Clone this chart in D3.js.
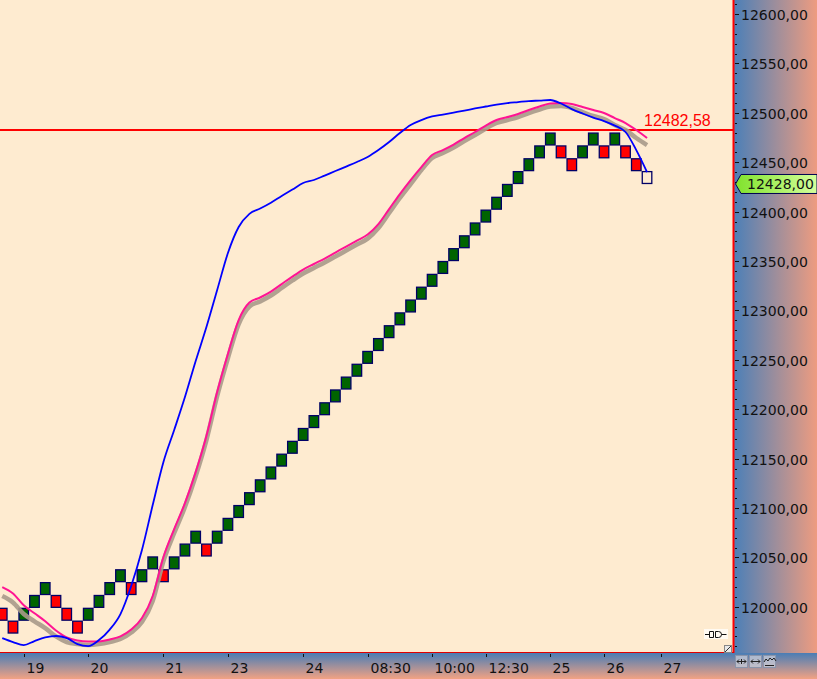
<!DOCTYPE html>
<html><head><meta charset="utf-8">
<script src="https://cdn.jsdelivr.net/npm/d3@7"></script>
<style>html,body{margin:0;padding:0;background:#fff;}svg{display:block;}</style>
</head><body>
<script>
// ---------- DATA ----------
const brickOpen  = [11999,11986,11986,11999,12012,12012,11999,11986,11986,11999,12012,12025,12025,12025,12038,12038,12038,12051,12064,12064,12064,
  12077,12090,12103,12116,12129,12142,12155,12168,12181,12194,12207,12220,12233,12246,12259,12272,12285,12298,12311,12324,12337,12350,12363,12376,12389,12402,12415,12428,12441,12454,12467,
  12467,12454,12454,12467,12467,12467,12467,12454,12441];
const brickClose = [11986,11973,11999,12012,12025,11999,11986,11973,11999,12012,12025,12038,12012,12038,12051,12025,12051,12064,12077,12051,12077,
  12090,12103,12116,12129,12142,12155,12168,12181,12194,12207,12220,12233,12246,12259,12272,12285,12298,12311,12324,12337,12350,12363,12376,12389,12402,12415,12428,12441,12454,12467,12480,
  12454,12441,12467,12480,12454,12480,12454,12441,12428];
const brickForming = 60; // last brick still forming (hollow)

const blueMA = [11968.4,11964.4,11961.3,11965.4,11969.0,11970.5,11968.4,11962.3,11960.3,11966.4,11977.0,11992.7,12021.1,12057.5,12103.0,12146.6,12179.0,12212.3,12248.8,12283.2,12320.7,
  12358.1,12384.4,12397.8,12403.1,12409.0,12415.8,12422.3,12429.0,12432.0,12436.5,12441.1,12445.6,12450.2,12455.3,12462.3,12470.4,12479.6,12487.7,12492.7,12496.3,
  12498.3,12500.3,12502.3,12504.4,12506.4,12508.4,12509.9,12510.9,12511.9,12512.4,12513.0,12509.4,12503.8,12499.3,12495.2,12491.7,12487.1,12480.6,12462.3,12440.1];
const pinkMA = [12020.0,12013.5,12001.6,11993.5,11985.4,11976.1,11969.0,11966.0,11965.0,11965.0,11967.0,11970.1,11977.0,11988.7,12011.0,12050.4,12078.7,12105.0,12136.4,12172.9,12217.4,
  12255.9,12290.3,12308.0,12313.1,12319.1,12326.7,12334.3,12341.4,12347.0,12352.5,12358.6,12364.7,12370.7,12376.8,12387.4,12402.6,12417.8,12432.0,12445.1,12457.3,
  12462.3,12467.9,12474.5,12480.6,12487.1,12492.7,12495.7,12498.8,12502.8,12506.4,12509.4,12509.9,12508.9,12505.9,12502.8,12499.8,12494.7,12489.7,12482.6,12474.5];
const grayMA = [12010.9,12004.4,11992.7,11985.4,11978.5,11970.1,11964.4,11962.3,11961.3,11962.3,11964.4,11967.4,11974.0,11984.6,12005.9,12046.4,12074.7,12101.0,12132.4,12168.8,12213.4,
  12251.8,12286.2,12304.0,12309.1,12315.1,12322.7,12330.3,12337.4,12343.0,12348.5,12354.5,12360.6,12366.7,12372.7,12383.4,12398.6,12413.8,12427.9,12442.1,12454.3,
  12459.3,12464.9,12471.5,12477.5,12484.1,12489.7,12492.7,12495.7,12499.8,12503.3,12506.4,12506.9,12504.9,12500.8,12496.8,12493.7,12487.7,12482.6,12474.5,12467.4];

const timeTickIndex = [2, 8, 15, 21, 28, 34, 40, 45, 51, 56, 61.27];
const timeTickLabel = ["19","20","21","23","24","08:30","10:00","12:30","25","26","27"];
const priceTicks = [12000,12050,12100,12150,12200,12250,12300,12350,12400,12450,12500,12550,12600];
const hLineValue = 12482.58;
const lastPrice = 12428.00;

// ---------- LAYOUT ----------
const W = 817, H = 679, plotR = 733, plotB = 652;
const fmt = v => d3.format(".2f")(v).replace(".", ",");

const svg = d3.select("body").append("svg").attr("width", W).attr("height", H)
  .attr("font-family", "'DejaVu Sans', Verdana, sans-serif");

const x = d3.scaleLinear().domain([-0.2094, 68.0]).range([0, plotR]);
const y = d3.scaleLinear().domain([11954.3, 12614.2]).range([plotB, 0]);

const defs = svg.append("defs");
const gR = defs.append("linearGradient").attr("id","gR").attr("x1",0).attr("x2",1).attr("y1",0).attr("y2",0);
gR.append("stop").attr("offset",0).attr("stop-color","#4a7fb8");
gR.append("stop").attr("offset",1).attr("stop-color","#ee9c80");
const gB = defs.append("linearGradient").attr("id","gB").attr("x1",0).attr("x2",0).attr("y1",0).attr("y2",1);
gB.append("stop").attr("offset",0).attr("stop-color","#4a7db5");
gB.append("stop").attr("offset",1).attr("stop-color","#f2a283");
const gT = defs.append("linearGradient").attr("id","gT").attr("x1",0).attr("x2",1).attr("y1",0).attr("y2",0);
gT.append("stop").attr("offset",0).attr("stop-color","#80e22c");
gT.append("stop").attr("offset",1).attr("stop-color","#d4ff9c");
defs.append("clipPath").attr("id","clip").append("rect").attr("x",0).attr("y",0).attr("width",plotR).attr("height",plotB);

// backgrounds
svg.append("rect").attr("x",0).attr("y",0).attr("width",plotR).attr("height",plotB).attr("fill","#feebd0");
svg.append("rect").attr("x",plotR).attr("y",0).attr("width",W-plotR).attr("height",plotB+1).attr("fill","url(#gR)");
svg.append("rect").attr("x",0).attr("y",plotB+1).attr("width",W).attr("height",H-plotB-1).attr("fill","url(#gB)");

const plot = svg.append("g").attr("clip-path","url(#clip)");

// horizontal line
plot.append("line").attr("x1",0).attr("x2",plotR).attr("y1",y(hLineValue)).attr("y2",y(hLineValue))
  .attr("stroke","#ff0000").attr("stroke-width",2);

// bricks
const step = x(1) - x(0);
const bricks = brickOpen.map((o,i)=>({i, o, c: brickClose[i]}));
plot.append("g").selectAll("rect").data(bricks).join("rect")
  .attr("x", d => x(d.i) - step/2 + 0.6)
  .attr("width", step - 1.2)
  .attr("y", d => y(Math.max(d.o,d.c)) + 0.5)
  .attr("height", d => y(Math.min(d.o,d.c)) - y(Math.max(d.o,d.c)) - 1.0)
  .attr("fill", d => d.i === brickForming ? "#feebd0" : (d.c > d.o ? "#006400" : "#ff0000"))
  .attr("stroke", "#000066").attr("stroke-width", 1.3);

// lines
const line = d3.line().x((d,i)=>x(i)).y(d=>y(d)).curve(d3.curveMonotoneX);
plot.append("path").attr("d", line(grayMA)).attr("fill","none").attr("stroke","#a89a8a").attr("stroke-opacity",0.9).attr("stroke-width",4.5);
plot.append("path").attr("d", line(pinkMA)).attr("fill","none").attr("stroke","#ff1493").attr("stroke-width",2);
plot.append("path").attr("d", line(blueMA)).attr("fill","none").attr("stroke","#0000ff").attr("stroke-width",1.8);

// h-line label
svg.append("text").attr("x",644).attr("y",y(hLineValue)-4).attr("fill","#ff0000")
  .attr("font-family","'Liberation Sans', Arial, sans-serif").attr("font-size",16).text(fmt(hLineValue));

// borders
svg.append("line").attr("x1",plotR+0.5).attr("x2",plotR+0.5).attr("y1",0).attr("y2",plotB+1).attr("stroke","#ff0000").attr("stroke-width",2);
svg.append("line").attr("x1",0).attr("x2",plotR+1).attr("y1",plotB+0.5).attr("y2",plotB+0.5).attr("stroke","#e00000").attr("stroke-width",1.2);

// right axis
const minorTicks = d3.range(11960, 12611, 10);
svg.append("g").selectAll("line").data(minorTicks).join("line")
  .attr("x1",735).attr("x2", d => d % 50 === 0 ? 739 : 737)
  .attr("y1", d => Math.round(y(d))+0.5).attr("y2", d => Math.round(y(d))+0.5)
  .attr("stroke","#111").attr("stroke-width",1);
svg.append("g").selectAll("text").data(priceTicks).join("text")
  .attr("x",741).attr("y", d => y(d)+6).attr("font-size",14).attr("fill","#111").text(fmt);

// last price tag
const ty = y(lastPrice);
svg.append("path").attr("d", `M735.5,${ty} L741,${ty-9.5} L817,${ty-9.5} L817,${ty+9.5} L741,${ty+9.5} Z`)
  .attr("fill","url(#gT)").attr("stroke","#000050").attr("stroke-width",1);
svg.append("text").attr("x",747).attr("y",ty+5.5).attr("font-size",14).attr("fill","#111").text(fmt(lastPrice));

// bottom axis
const bt = svg.append("g");
timeTickIndex.forEach((t,k)=>{
  const xx = Math.round(x(t))+0.5;
  bt.append("line").attr("x1",xx).attr("x2",xx).attr("y1",654).attr("y2",657).attr("stroke","#111");
  bt.append("text").attr("x",xx+2).attr("y",673).attr("font-size",14).attr("fill","#111").text(timeTickLabel[k]);
});

// small icons
svg.append("rect").attr("x",704).attr("y",629).attr("width",24).attr("height",10).attr("fill","#fffaf2");
svg.append("path").attr("d","M705,634.5h4 M713.5,631.5h-4v6h4z M715.5,631.5h3a3,3 0 0 1 0,6h-3z M721.5,634.5h5")
  .attr("fill","none").attr("stroke","#111").attr("stroke-width",1);
svg.append("rect").attr("x",724.5).attr("y",645.5).attr("width",7).attr("height",7).attr("fill","#e8e8e8").attr("stroke","#888");
svg.append("line").attr("x1",725).attr("y1",652).attr("x2",731).attr("y2",646).attr("stroke","#333");

const btn = svg.append("g");
[735,749,763].forEach((bx,k)=>{
  btn.append("rect").attr("x",bx+0.5).attr("y",655.5).attr("width",12).attr("height",12)
    .attr("fill","#c8ccd8").attr("fill-opacity",0.75).attr("stroke","#8a94aa");
});
btn.append("path").attr("d","M737,661.5h9 M737,661.5l2,-2 M737,661.5l2,2 M746,661.5l-2,-2 M746,661.5l-2,2 M741.5,659v5")
  .attr("fill","none").attr("stroke","#222").attr("stroke-width",1);
btn.append("path").attr("d","M751,661.5h9 M751,661.5l2,-2 M751,661.5l2,2 M760,661.5l-2,-2 M760,661.5l-2,2")
  .attr("fill","none").attr("stroke","#222").attr("stroke-width",1);
btn.append("path").attr("d","M764,662 l2,-3 l2,2 l2,-3 l2,2 l2,-2 l2,3 M765,665.5h9")
  .attr("fill","none").attr("stroke","#222").attr("stroke-width",1);
</script>
</body></html>
